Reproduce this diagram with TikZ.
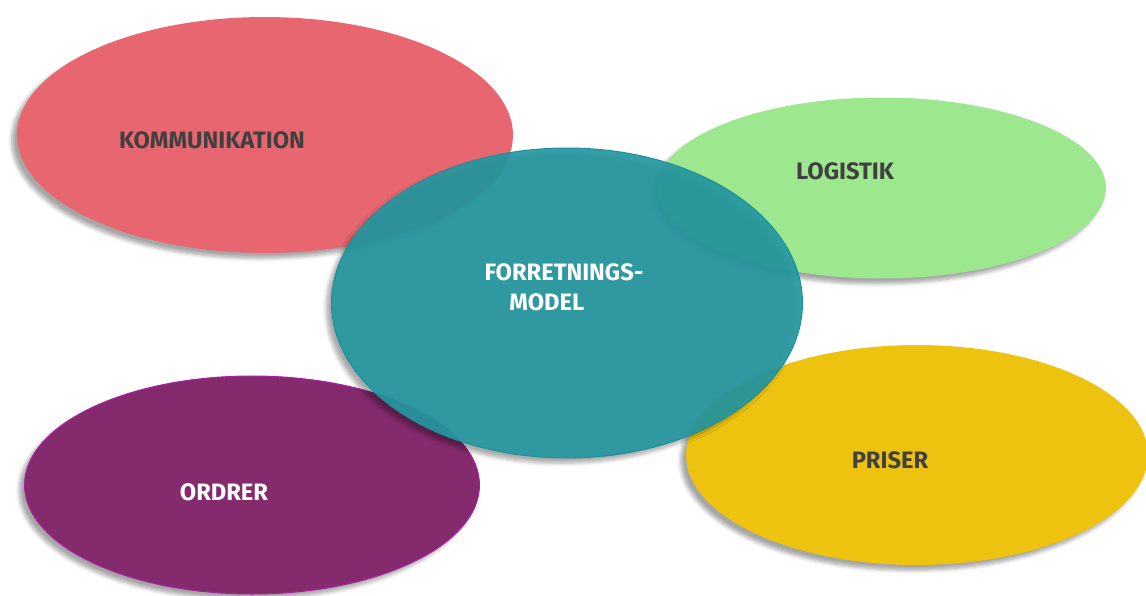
\documentclass[tikz,border=0pt]{standalone}
\usepackage{fontspec}
\setmainfont{Fira Sans}
\usepackage{tikz}
\usetikzlibrary{shapes.geometric,shadows.blur}

\definecolor{komred}{HTML}{E8666F}
\definecolor{loggreen}{HTML}{9DE88E}
\definecolor{modteal}{HTML}{2697A0}
\definecolor{modedge}{HTML}{1B929B}
\definecolor{prisyellow}{HTML}{EEC30F}
\definecolor{ordpurple}{HTML}{852B6D}
\definecolor{ordedge}{HTML}{A323A0}
\definecolor{labgray}{HTML}{404040}

\begin{document}
\begin{tikzpicture}[x=0.02cm,y=-0.02cm,
 blob/.style={ellipse,inner sep=0pt,
   blur shadow={shadow xshift=-3pt,shadow yshift=-3pt,shadow opacity=35,shadow blur steps=6}},
 lab/.style={font=\fontsize{13.5}{15}\selectfont\bfseries,text=labgray,inner sep=1pt},
 wlab/.style={lab,text=white,align=left}]
\useasboundingbox (0,0) rectangle (1146,595);
% the four outer ellipses
\node[blob,fill=komred,minimum width=9.92cm,minimum height=4.72cm] (kom) at (265,135) {};
\node[blob,fill=loggreen,minimum width=8.96cm,minimum height=3.62cm] (log) at (882,188) {};
\node[blob,fill=prisyellow,minimum width=9.24cm,minimum height=4.4cm] (pris) at (917,455) {};
\node[blob,fill=ordpurple,draw=ordedge,semithick,minimum width=9.1cm,minimum height=4.36cm] (ord) at (252,485) {};
% centre ellipse, laid over the others
\node[blob,fill=modteal,fill opacity=.93,draw=modedge,semithick,minimum width=9.42cm,minimum height=6.2cm] (mod) at (567,303) {};
% texts
\node[lab] (komtxt) at (212,140) {KOMMUNIKATION};
\node[lab] (logtxt) at (845,171) {LOGISTIK};
\node[lab] (pristxt) at (890,460) {PRISER};
\node[wlab] (ordtxt) at (224,492) {ORDRER};
\node[wlab,font=\fontsize{13.5}{17}\selectfont\bfseries] (modtxt) at (564,287) {FORRETNINGS-\\\hspace{1.05em}MODEL};
\end{tikzpicture}
\end{document}
